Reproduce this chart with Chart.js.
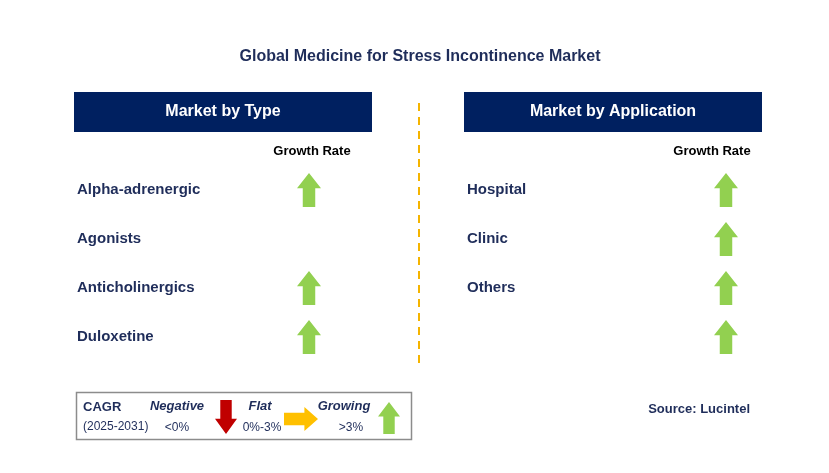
<!DOCTYPE html>
<html><head><meta charset="utf-8">
<script src="https://cdn.jsdelivr.net/npm/chart.js"></script>
<style>html,body{margin:0;padding:0;background:#fff;overflow:hidden}</style>
</head><body><canvas id="c" width="829" height="473" style="width:829px;height:473px;display:block"></canvas>
<script>
const title = 'Global Medicine for Stress Incontinence Market';
const typeCategories = ['Alpha-adrenergic', 'Agonists', 'Anticholinergics', 'Duloxetine'];
const typeGrowth = ['up', null, 'up', 'up'];
const appCategories = ['Hospital', 'Clinic', 'Others', ''];
const appGrowth = ['up', 'up', 'up', 'up'];
const legendLabels = ['Negative', 'Flat', 'Growing'];
const legendRanges = ['<0%', '0%-3%', '>3%'];

const NAVY = '#002060', TXT = '#1F2D5A', GREEN = '#92D050';
function arrowImg(dir, w, h, color) {
  const c = document.createElement('canvas');
  c.width = w; c.height = h;
  const g = c.getContext('2d'); g.fillStyle = color; g.beginPath();
  if (dir === 'up') {
    const sh = w * 0.26;
    g.moveTo(w / 2, 0); g.lineTo(w, h * 0.45); g.lineTo(w / 2 + sh, h * 0.45); g.lineTo(w / 2 + sh, h);
    g.lineTo(w / 2 - sh, h); g.lineTo(w / 2 - sh, h * 0.45); g.lineTo(0, h * 0.45);
  } else if (dir === 'down') {
    const sh = w * 0.26;
    g.moveTo(w / 2, h); g.lineTo(w, h * 0.55); g.lineTo(w / 2 + sh, h * 0.55); g.lineTo(w / 2 + sh, 0);
    g.lineTo(w / 2 - sh, 0); g.lineTo(w / 2 - sh, h * 0.55); g.lineTo(0, h * 0.55);
  } else {
    const sh = h * 0.26;
    g.moveTo(w, h / 2); g.lineTo(w * 0.6, 0); g.lineTo(w * 0.6, h / 2 - sh); g.lineTo(0, h / 2 - sh);
    g.lineTo(0, h / 2 + sh); g.lineTo(w * 0.6, h / 2 + sh); g.lineTo(w * 0.6, h);
  }
  g.closePath(); g.fill(); return c;
}
const upArrow = arrowImg('up', 24, 34, GREEN);
function pts(arr, x) { return arr.map((v, i) => v ? { x: x, y: i } : null).filter(Boolean); }

const decor = {
  id: 'decor',
  beforeDatasetsDraw(chart) {
    const g = chart.ctx; g.save();
    const F = '"Liberation Sans", Arial, sans-serif';
    g.textBaseline = 'middle';
    g.fillStyle = TXT; g.font = 'bold 16px ' + F; g.textAlign = 'center';
    g.fillText(title, 420, 57);
    [[74, 'Market by Type'], [464, 'Market by Application']].forEach(([x, t]) => {
      g.fillStyle = NAVY; g.fillRect(x, 92, 298, 40);
      g.fillStyle = '#fff'; g.font = 'bold 16px ' + F; g.fillText(t, x + 149, 112);
    });
    g.strokeStyle = '#F5B400'; g.lineWidth = 2; g.setLineDash([8, 6]);
    g.beginPath(); g.moveTo(419, 103); g.lineTo(419, 366); g.stroke(); g.setLineDash([]);
    g.fillStyle = '#000'; g.font = 'bold 13px ' + F;
    g.fillText('Growth Rate', 312, 151); g.fillText('Growth Rate', 712, 151);
    const ys = chart.scales.y;
    g.textAlign = 'left'; g.fillStyle = TXT; g.font = 'bold 15px ' + F;
    typeCategories.forEach((t, i) => g.fillText(t, 77, ys.getPixelForValue(i)));
    appCategories.forEach((t, i) => g.fillText(t, 467, ys.getPixelForValue(i)));
    g.strokeStyle = '#8c8c8c'; g.lineWidth = 1.5; g.strokeRect(76.5, 392.5, 335, 47);
    g.fillStyle = TXT; g.font = 'bold 13px ' + F; g.fillText('CAGR', 83, 407);
    g.font = '12px ' + F; g.fillText('(2025-2031)', 83, 427);
    g.textAlign = 'center'; g.font = 'bold italic 13px ' + F;
    const lx = [177, 260, 344];
    legendLabels.forEach((t, i) => g.fillText(t, lx[i], 406));
    g.font = '12px ' + F;
    [177, 262, 351].forEach((x, i) => g.fillText(legendRanges[i], x, 428));
    g.drawImage(arrowImg('down', 22, 34, '#C00000'), 215, 400);
    g.drawImage(arrowImg('right', 34, 24, '#FFC000'), 284, 407);
    g.drawImage(arrowImg('up', 22, 32, GREEN), 378, 402);
    g.textAlign = 'right'; g.fillStyle = TXT; g.font = 'bold 13px ' + F;
    g.fillText('Source: Lucintel', 750, 409);
    g.restore();
  }
};

new Chart(document.getElementById('c'), {
  type: 'scatter',
  data: { datasets: [
    { data: pts(typeGrowth, 309), pointStyle: upArrow, pointRadius: 17 },
    { data: pts(appGrowth, 726), pointStyle: upArrow, pointRadius: 17 }
  ]},
  options: {
    responsive: false, devicePixelRatio: 1, animation: false,
    layout: { padding: 0, autoPadding: false },
    plugins: { legend: { display: false }, tooltip: { enabled: false } },
    scales: {
      x: { type: 'linear', display: false, min: 0, max: 829 },
      y: { type: 'linear', display: false, reverse: true, min: -190 / 49, max: (473 - 190) / 49 }
    }
  },
  plugins: [decor]
});
</script></body></html>
